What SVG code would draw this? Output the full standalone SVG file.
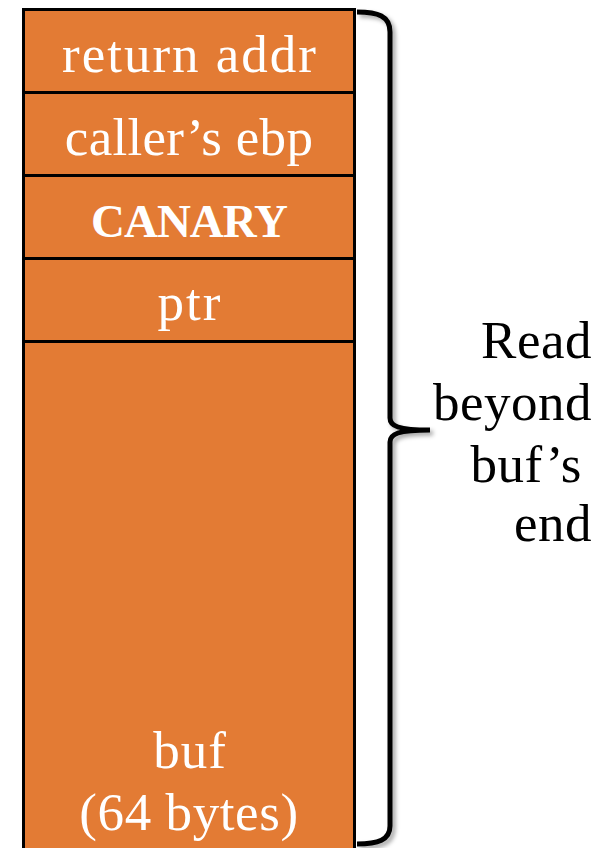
<svg xmlns="http://www.w3.org/2000/svg" width="605" height="848" viewBox="0 0 605 848">
<defs>
<style>
.cell{fill:#E37B34;stroke:#000;stroke-width:3}
.lbl{font-family:"Liberation Serif","DejaVu Serif",serif;font-size:53px;letter-spacing:2px;fill:#fff;text-anchor:middle}
.bold{font-weight:bold;font-size:47px;letter-spacing:-1px}
.side{font-family:"Liberation Serif","DejaVu Serif",serif;font-size:53px;letter-spacing:0.5px;fill:#000;text-anchor:end}
</style>
<filter id="sh" x="-20%" y="-5%" width="150%" height="110%"><feDropShadow dx="3" dy="3" stdDeviation="2" flood-color="#000" flood-opacity="0.35"/></filter>
</defs>
<rect width="605" height="848" fill="#fff"/>
<g id="return-addr"><rect class="cell" x="23.5" y="9.5" width="331" height="83"/><text class="lbl" x="190" y="72">return addr</text></g>
<g id="callers-ebp"><rect class="cell" x="23.5" y="92.5" width="331" height="83"/><text class="lbl" x="189" y="155" style="letter-spacing:0.3px">caller’s ebp</text></g>
<g id="canary"><rect class="cell" x="23.5" y="175.5" width="331" height="83"/><text class="lbl bold" x="189" y="237">CANARY</text></g>
<g id="ptr"><rect class="cell" x="23.5" y="258.5" width="331" height="83"/><text class="lbl" x="190" y="320">ptr</text></g>
<g id="buf"><rect class="cell" x="23.5" y="341.5" width="331" height="520"/><text class="lbl" x="190" y="768" style="letter-spacing:1px">buf</text><text class="lbl" x="189" y="830" style="letter-spacing:0.6px">(64 bytes)</text></g>
<g id="connectors">
<path d="M357,12 C378,12 390,16 390,32 L390,418 C390,426 398,430 430,430 C398,430 390,434 390,442 L390,826 C390,840 378,844 357,844" fill="none" stroke="#000" stroke-width="5" filter="url(#sh)"/>
</g>
<g id="read-label"><text class="side" x="592" y="358">Read</text><text class="side" x="592" y="420">beyond</text><text class="side" x="582" y="482">buf’s</text><text class="side" x="592" y="541">end</text></g>
</svg>
